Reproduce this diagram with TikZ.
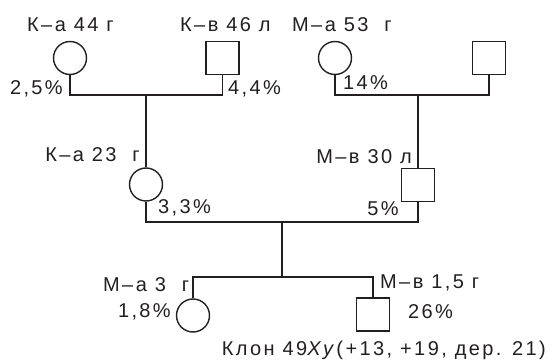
\documentclass[tikz,border=0pt]{standalone}
\usepackage{fontspec}
\setmainfont{Liberation Sans}[LetterSpace=12]
\definecolor{ink}{HTML}{231F20}
\begin{document}
\begin{tikzpicture}[x=1pt,y=-1pt,
  female/.style={circle,draw=ink,line width=1.4pt,minimum size=33pt,inner sep=0pt},
  male/.style={rectangle,draw=ink,line width=1.4pt,minimum size=33pt,inner sep=0pt},
  link/.style={draw=ink,line width=1.8pt},
  lbl/.style={inner sep=0pt,text=ink,font=\fontsize{20}{23}\selectfont}]
\useasboundingbox (0,0) rectangle (552,361);
% generation I
\node[female] (f1) at (70,58) {};
\node[male] (m1) at (222.5,58) {};
\node[female] (f2) at (335,58) {};
\node[male] (m2) at (489,58) {};
% generation II
\node[female] (f3) at (146,184.5) {};
\node[male] (m3) at (418,185) {};
% generation III
\node[female] (f4) at (193,315.5) {};
\node[male] (m4) at (373,314.5) {};
% junctions
\coordinate (j1) at (146,95);
\coordinate (j2) at (418,95);
\coordinate (j3) at (282,222);
\coordinate (j4) at (282,277);
% connectors
\draw[link] (f1.south) |- (j1) -| (m1.south);
\draw[link] (j1) -- (f3.north);
\draw[link] (f2.south) |- (j2) -| (m2.south);
\draw[link] (j2) -- (m3.north);
\draw[link] (f3.south) |- (j3) -| (m3.south);
\draw[link] (j3) -- (j4);
\draw[link] (f4.north) |- (j4) -| (m4.north);
% labels
\node[lbl,anchor=west] (t1) at (27,25) {К–а 44 г};
\node[lbl,anchor=west] (t2) at (180,25) {К–в 46 л};
\node[lbl,anchor=west] (t3) at (292,25) {М–а 53~ г};
\node[lbl,anchor=east] (p1) at (63,89) {2,5\%};
\node[lbl,anchor=west] (p2) at (228,89) {4,4\%};
\node[lbl,anchor=west] (p3) at (343,83) {14\%};
\node[lbl,anchor=east] (t4) at (140,155) {К–а 23~ г};
\node[lbl,anchor=west] (p4) at (158,208) {3,3\%};
\node[lbl,anchor=east] (t5) at (412,157) {М–в 30 л};
\node[lbl,anchor=east] (p5) at (399,209) {5\%};
\node[lbl,anchor=west] (t6) at (103,285) {М–а 3~ г};
\node[lbl,anchor=east] (p6) at (171,312) {1,8\%};
\node[lbl,anchor=west] (t7) at (380,283) {М–в 1,5 г};
\node[lbl,anchor=west] (p7) at (408,312) {26\%};
\node[lbl,anchor=east] (t8) at (546,350) {Клон 49\textit{Xy}(+13, +19, дер. 21)};
\end{tikzpicture}
\end{document}
